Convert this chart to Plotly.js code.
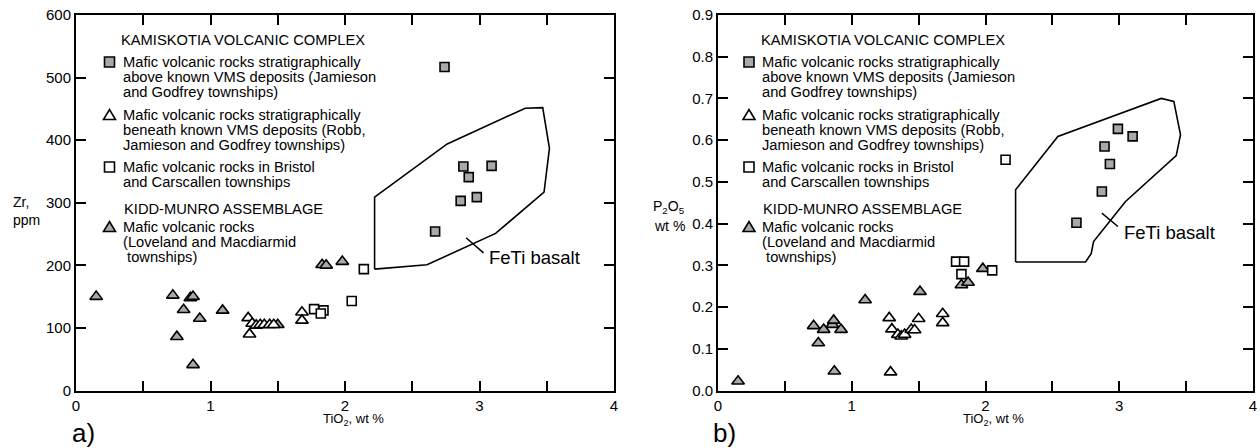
<!DOCTYPE html>
<html>
<head>
<meta charset="utf-8">
<script src="https://cdn.plot.ly/plotly-3.0.1.min.js"></script>
<style>html,body{margin:0;padding:0;background:#fff;}#chart{width:1260px;height:448px;}</style>
</head>
<body>
<div id="chart"></div>
<script>
// ---------- DATA ----------
// Panel a) Zr (ppm) vs TiO2 (wt %)
const aboveTiO2_a = [2.74, 2.88, 3.09, 2.92, 2.98, 2.86, 2.67];
const aboveZr_a   = [517, 358, 359, 341, 309, 303, 254];
const beneathTiO2_a = [1.28, 1.29, 1.31, 1.34, 1.37, 1.40, 1.44, 1.47, 1.68, 1.68];
const beneathZr_a   = [116, 90, 107, 104, 105, 105, 105, 105, 125, 112];
const bristolTiO2_a = [1.77, 1.84, 1.82, 2.05, 2.14];
const bristolZr_a   = [130, 128, 123, 143, 194];
const kiddTiO2_a = [0.15, 0.72, 0.85, 0.87, 0.80, 0.92, 0.75, 0.87, 1.09, 1.50, 1.83, 1.86, 1.98];
const kiddZr_a   = [150, 152, 148, 150, 129, 115, 86, 41, 128, 105, 201, 200, 206];
const fetiTiO2_a = [2.22, 2.61, 3.12, 3.48, 3.52, 3.47, 3.34, 2.76, 2.22, 2.22];
const fetiZr_a   = [194, 201, 251, 317, 387, 452, 451, 394, 309, 194];

// Panel b) P2O5 (wt %) vs TiO2 (wt %)
const aboveTiO2_b = [2.99, 3.10, 2.89, 2.93, 2.87, 2.68];
const aboveP_b    = [0.627, 0.609, 0.585, 0.543, 0.477, 0.402];
const beneathTiO2_b = [1.28, 1.30, 1.29, 1.345, 1.37, 1.395, 1.445, 1.47, 1.50, 1.68, 1.68];
const beneathP_b    = [0.174, 0.147, 0.044, 0.134, 0.130, 0.134, 0.146, 0.145, 0.172, 0.184, 0.162];
const bristolTiO2_b = [1.78, 1.84, 1.82, 2.05, 2.15];
const bristolP_b    = [0.309, 0.309, 0.279, 0.288, 0.553];
const kiddTiO2_b = [0.15, 0.715, 0.75, 0.79, 0.855, 0.865, 0.92, 0.87, 1.10, 1.51, 1.82, 1.87, 1.98];
const kiddP_b    = [0.022, 0.155, 0.114, 0.146, 0.158, 0.168, 0.146, 0.046, 0.217, 0.237, 0.253, 0.259, 0.292];
const fetiTiO2_b = [2.225, 2.748, 2.79, 2.808, 3.047, 3.426, 3.458, 3.408, 3.314, 2.541, 2.225, 2.225];
const fetiP_b    = [0.308, 0.308, 0.328, 0.357, 0.453, 0.563, 0.613, 0.693, 0.700, 0.609, 0.481, 0.308];

// leader line of the "FeTi basalt" label [x0, x1], [y0, y1]
const leaderX_a = [2.90, 3.03], leaderY_a = [244, 220];
const leaderX_b = [2.87, 2.99], leaderY_b = [0.425, 0.393];

// tick labels
const xTickVals = [0, 1, 2, 3, 4];
const zrTickVals = [0, 100, 200, 300, 400, 500, 600];
const pTickVals = [0, 0.1, 0.2, 0.3, 0.4, 0.5, 0.6, 0.7, 0.8, 0.9];
const pTickText = ['0.0','0.1','0.2','0.3','0.4','0.5','0.6','0.7','0.8','0.9'];

// legend text
const legendHeads = ['KAMISKOTIA VOLCANIC COMPLEX', 'KIDD-MUNRO ASSEMBLAGE'];
const legendAbove = ['Mafic volcanic rocks stratigraphically', 'above known VMS deposits (Jamieson', 'and Godfrey townships)'];
const legendBeneath = ['Mafic volcanic rocks stratigraphically', 'beneath known VMS deposits (Robb,', 'Jamieson and Godfrey townships)'];
const legendBristol = ['Mafic volcanic rocks in Bristol', 'and Carscallen townships'];
const legendKidd = ['Mafic volcanic rocks', '(Loveland and Macdiarmid', '\u00a0townships)'];

// ---------- STYLE / LAYOUT ----------
const W = 1260, H = 448;
const FONT = 'Liberation Sans, Arial, Helvetica, sans-serif';
const GRAY = '#a9a9a9';
const px = v => v / W;
const py = v => 1 - v / H;

const sqGray = {symbol: 'square', size: 9, color: GRAY, line: {color: '#000', width: 1.6}};
const sqWhite = {symbol: 'square', size: 9, color: '#fff', line: {color: '#000', width: 1.6}};
const triWhite = {symbol: 'triangle-up', size: 11, color: '#fff', line: {color: '#000', width: 1.6}};
const triGray = {symbol: 'triangle-up', size: 11, color: GRAY, line: {color: '#000', width: 1.6}};

function pts(x, y, marker, xa, ya, name) {
  return {type: 'scatter', mode: 'markers', x: x, y: y, xaxis: xa, yaxis: ya, name: name,
          marker: marker, showlegend: false, cliponaxis: false, hoverinfo: 'x+y'};
}
function poly(x, y, xa, ya) {
  return {type: 'scatter', mode: 'lines', x: x, y: y, xaxis: xa, yaxis: ya, name: 'FeTi basalt',
          line: {color: '#000', width: 1.6}, showlegend: false, hoverinfo: 'skip'};
}

const traces = [
  poly(fetiTiO2_a, fetiZr_a, 'x', 'y'),
  pts(kiddTiO2_a, kiddZr_a, triGray, 'x', 'y', 'Kidd-Munro'),
  pts(beneathTiO2_a, beneathZr_a, triWhite, 'x', 'y', 'Beneath VMS'),
  pts(bristolTiO2_a, bristolZr_a, sqWhite, 'x', 'y', 'Bristol & Carscallen'),
  pts(aboveTiO2_a, aboveZr_a, sqGray, 'x', 'y', 'Above VMS'),
  poly(fetiTiO2_b, fetiP_b, 'x2', 'y2'),
  pts(kiddTiO2_b, kiddP_b, triGray, 'x2', 'y2', 'Kidd-Munro'),
  pts(beneathTiO2_b, beneathP_b, triWhite, 'x2', 'y2', 'Beneath VMS'),
  pts(bristolTiO2_b, bristolP_b, sqWhite, 'x2', 'y2', 'Bristol & Carscallen'),
  pts(aboveTiO2_b, aboveP_b, sqGray, 'x2', 'y2', 'Above VMS')
];

const axisCommon = {
  showline: true, linecolor: '#000', linewidth: 2, mirror: 'ticks',
  ticks: 'inside', ticklen: 10, tickwidth: 2, tickcolor: '#000',
  showgrid: false, zeroline: false, fixedrange: true,
  tickfont: {family: FONT, size: 15, color: '#000'}
};
const xMinor = {minor: {ticks: 'inside', ticklen: 10, tickwidth: 2, tickcolor: '#000', dtick: 0.5, tick0: 0, showgrid: false}};
const yDom = [(H - 390.5) / H, (H - 15) / H];

const layout = {
  width: W, height: H,
  margin: {l: 0, r: 0, t: 0, b: 0},
  paper_bgcolor: '#fff', plot_bgcolor: '#fff',
  showlegend: false,
  font: {family: FONT, color: '#000'},
  xaxis: Object.assign({}, axisCommon, xMinor, {domain: [px(76), px(614)], range: [0, 4], anchor: 'y',
          tickmode: 'array', tickvals: xTickVals}),
  yaxis: Object.assign({}, axisCommon, {domain: yDom, range: [0, 600], anchor: 'x',
          tickmode: 'array', tickvals: zrTickVals}),
  xaxis2: Object.assign({}, axisCommon, xMinor, {domain: [px(718), px(1253)], range: [0, 4], anchor: 'y2',
          tickmode: 'array', tickvals: xTickVals}),
  yaxis2: Object.assign({}, axisCommon, {domain: yDom, range: [0, 0.9], anchor: 'x2',
          tickmode: 'array', tickvals: pTickVals, ticktext: pTickText}),
  annotations: [],
  shapes: []
};

const A = layout.annotations, S = layout.shapes;
function label(text, x, y, opts) {
  A.push(Object.assign({text: text, x: x, y: y, xref: 'paper', yref: 'paper', showarrow: false,
    xanchor: 'left', yanchor: 'middle', borderpad: 0,
    font: {family: FONT, size: 14.7, color: '#000'}}, opts || {}));
}

function legendSymbol(kind, cx, cy) {
  const fill = (kind === 'sqGray' || kind === 'triGray') ? GRAY : '#fff';
  if (kind.indexOf('sq') === 0) {
    S.push({type: 'rect', xref: 'paper', yref: 'paper', x0: px(cx - 5), x1: px(cx + 5),
      y0: py(cy + 5), y1: py(cy - 5), fillcolor: fill, line: {color: '#000', width: 1.6}});
  } else {
    const p = 'M' + px(cx - 6) + ',' + py(cy + 4.5) + ' L' + px(cx + 6) + ',' + py(cy + 4.5) +
              ' L' + px(cx) + ',' + py(cy - 5.5) + ' Z';
    S.push({type: 'path', xref: 'paper', yref: 'paper', path: p, fillcolor: fill,
      line: {color: '#000', width: 1.6}});
  }
}

// legends for both panels
[0, 639.5].forEach(function (ox) {
  const headX = ox + 120, textX = ox + 121.5, mX = ox + 109.5, LS = 15;
  label(legendHeads[0], px(headX), py(40));
  const blocks = [[legendAbove, 62, 'sqGray'], [legendBeneath, 115, 'triWhite'], [legendBristol, 167, 'sqWhite']];
  blocks.forEach(function (b) {
    b[0].forEach(function (t, i) { label(t, px(textX), py(b[1] + i * LS)); });
    legendSymbol(b[2], mX, b[1]);
  });
  label(legendHeads[1], px(ox + 122.5), py(209));
  legendKidd.forEach(function (t, i) { label(t, px(textX), py(227 + i * LS)); });
  legendSymbol('triGray', mX, 227);
});

// axis titles
const tf = {family: FONT, size: 14, color: '#000'};
label('Zr,', px(12), py(202), {font: tf});
label('ppm', px(12), py(220), {font: tf});
label('P<sub>2</sub>O<sub>5</sub>', px(686), py(207), {xanchor: 'right', font: tf});
label('wt %', px(686), py(226), {xanchor: 'right', font: tf});
label('TiO<sub>2</sub>, wt %', px(353), py(419), {xanchor: 'center', font: {family: FONT, size: 13, color: '#000'}});
label('TiO<sub>2</sub>, wt %', px(993), py(419), {xanchor: 'center', font: {family: FONT, size: 13, color: '#000'}});
label('a)', px(71), py(433), {font: {family: FONT, size: 26, color: '#000'}});
label('b)', px(712), py(433), {font: {family: FONT, size: 26, color: '#000'}});

// FeTi basalt labels with leader lines
A.push({text: 'FeTi basalt', x: leaderX_a[1] + 0.03, y: leaderY_a[1] - 8, xref: 'x', yref: 'y',
  showarrow: false, xanchor: 'left', yanchor: 'middle', borderpad: 0,
  font: {family: FONT, size: 18.5, color: '#000'}});
A.push({text: 'FeTi basalt', x: leaderX_b[1] + 0.035, y: leaderY_b[1] - 0.014, xref: 'x2', yref: 'y2',
  showarrow: false, xanchor: 'left', yanchor: 'middle', borderpad: 0,
  font: {family: FONT, size: 18.5, color: '#000'}});
S.push({type: 'line', xref: 'x', yref: 'y', x0: leaderX_a[0], x1: leaderX_a[1], y0: leaderY_a[0], y1: leaderY_a[1],
  line: {color: '#000', width: 1.5}});
S.push({type: 'line', xref: 'x2', yref: 'y2', x0: leaderX_b[0], x1: leaderX_b[1], y0: leaderY_b[0], y1: leaderY_b[1],
  line: {color: '#000', width: 1.5}});

Plotly.newPlot('chart', traces, layout, {displayModeBar: false, staticPlot: true});
</script>
</body>
</html>
